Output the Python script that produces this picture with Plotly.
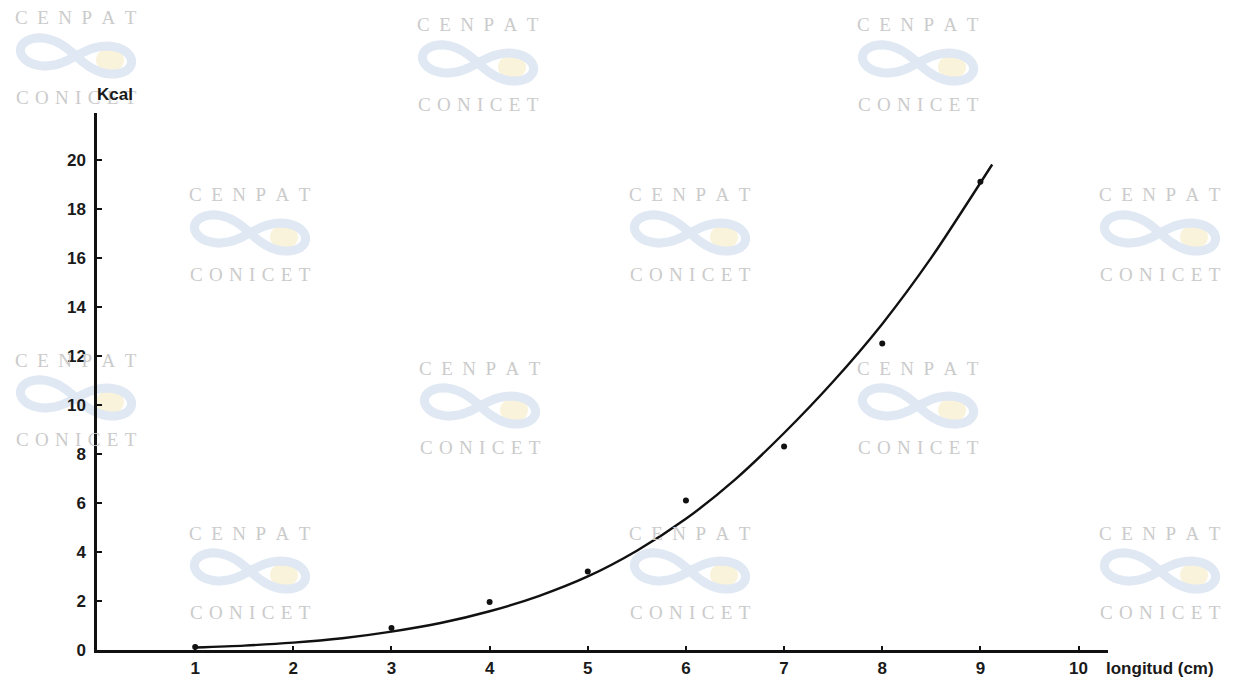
import numpy as np
import plotly.graph_objects as go

# ---- data ----
obs_x = [1, 3, 4, 5, 6, 7, 8, 9]
obs_y = [0.12, 0.9, 1.96, 3.2, 6.1, 8.3, 12.5, 19.1]

curve_x = [1, 1.5, 2, 2.5, 3, 3.5, 4, 4.5, 5, 5.5, 6, 6.5, 7, 7.5, 8, 8.5, 9.12]
curve_y = [0.1, 0.18, 0.3, 0.48, 0.75, 1.1, 1.58, 2.2, 3.0, 4.05, 5.35, 6.95, 8.85, 10.95, 13.3, 16.0, 19.8]

x_ticks = [1, 2, 3, 4, 5, 6, 7, 8, 9, 10]
y_ticks = [0, 2, 4, 6, 8, 10, 12, 14, 16, 18, 20]

x_label = "longitud (cm)"
y_label = "Kcal"

# watermark group positions (page pixel centre x, page pixel y of "CENPAT")
wm_x = [76, 478, 918, 250, 690, 1160, 76, 480, 918, 250, 690, 1160]
wm_y = [18, 25, 25, 195, 195, 195, 360, 368, 368, 533, 533, 533]

# ---- layout geometry (page has an 8px body margin) ----
OFF = 8
W, H = 1249 - 2 * OFF, 685 - 2 * OFF
X0, X1, Y0, Y1 = 97, 1108, 113, 650          # plot area in page pixels
L, T = X0 - OFF, Y0 - OFF
R, B = W - (X1 - OFF), H - (Y1 - OFF)
PW, PH = W - L - R, H - T - B


def px(x):
    return (x - X0) / PW


def py(y):
    return (Y1 - y) / PH


fig = go.Figure()

fig.add_trace(go.Scatter(
    x=curve_x, y=curve_y, mode="lines",
    line=dict(color="#111111", width=2.4, shape="spline", smoothing=0.7),
    hoverinfo="skip", showlegend=False,
))
fig.add_trace(go.Scatter(
    x=obs_x, y=obs_y, mode="markers",
    marker=dict(color="#111111", size=6),
    showlegend=False,
))

shapes = []
annotations = []
wm_font = dict(family="Liberation Serif, Times New Roman, serif", size=19, color="#cbcbcb")
cenpat_txt = "\u2002".join("CENPAT")
conicet_txt = "\u2004".join("CONICET")

# lemniscate outline for the watermark logo (decoration)
t = np.linspace(0, 2 * np.pi, 80)
lx = 56 * np.cos(t) / (1 + np.sin(t) ** 2)
ly = 0.7 * 56 * np.sin(t) * np.cos(t) / (1 + np.sin(t) ** 2)
tilt = -0.12
rx = lx * np.cos(tilt) - ly * np.sin(tilt)
ry = lx * np.sin(tilt) + ly * np.cos(tilt)

for cx, cy in zip(wm_x, wm_y):
    annotations.append(dict(
        x=px(cx), y=py(cy), xref="paper", yref="paper",
        text=cenpat_txt, showarrow=False, font=wm_font,
        xanchor="center", yanchor="middle",
    ))
    annotations.append(dict(
        x=px(cx), y=py(cy + 79), xref="paper", yref="paper",
        text=conicet_txt, showarrow=False, font=wm_font,
        xanchor="center", yanchor="middle",
    ))
    lcy = cy + 38
    sx0, sx1 = cx + 20, cx + 48
    sy0, sy1 = lcy - 8, lcy + 16
    shapes.append(dict(
        type="circle", xref="paper", yref="paper",
        x0=px(sx0), x1=px(sx1), y0=py(sy1), y1=py(sy0),
        fillcolor="#f9f3dc", line=dict(width=0), layer="below",
    ))
    pts = [f"{px(cx + a):.5f},{py(lcy - b):.5f}" for a, b in zip(rx, ry)]
    shapes.append(dict(
        type="path", xref="paper", yref="paper",
        path="M" + " L".join(pts) + " Z",
        line=dict(color="#dfe8f3", width=9), layer="below",
    ))

lab_font = dict(family="Liberation Sans, Arial, sans-serif", size=17, color="#1a1a1a", weight="bold")
annotations.append(dict(
    x=px(95), y=py(95), xref="paper", yref="paper", text=y_label,
    showarrow=False, xanchor="left", yanchor="middle", font=lab_font,
))
annotations.append(dict(
    x=px(1104), y=py(668), xref="paper", yref="paper", text=x_label,
    showarrow=False, xanchor="left", yanchor="middle", font=lab_font,
))

tick_font = dict(family="Liberation Sans, Arial, sans-serif", size=17, color="#1a1a1a", weight="bold")

fig.update_layout(
    width=W, height=H,
    margin=dict(l=L, r=R, t=T, b=B, pad=0, autoexpand=False),
    paper_bgcolor="white", plot_bgcolor="rgba(0,0,0,0)",
    shapes=shapes, annotations=annotations,
    xaxis=dict(
        range=[0, 10.3], tickvals=x_ticks, ticktext=[str(v) for v in x_ticks],
        showgrid=False, zeroline=False, showline=True, linecolor="#111111", linewidth=2.5,
        ticks="inside", ticklen=4, tickwidth=1.5, tickcolor="#111111",
        tickfont=tick_font, ticklabelstandoff=1, automargin=False,
    ),
    yaxis=dict(
        range=[0, 21.9], tickvals=y_ticks, ticktext=[str(v) for v in y_ticks],
        showgrid=False, zeroline=False, showline=True, linecolor="#111111", linewidth=2.5,
        ticks="inside", ticklen=5, tickwidth=1.5, tickcolor="#111111",
        tickfont=tick_font, ticklabelstandoff=5, automargin=False,
    ),
)

fig.write_html("out.html")
